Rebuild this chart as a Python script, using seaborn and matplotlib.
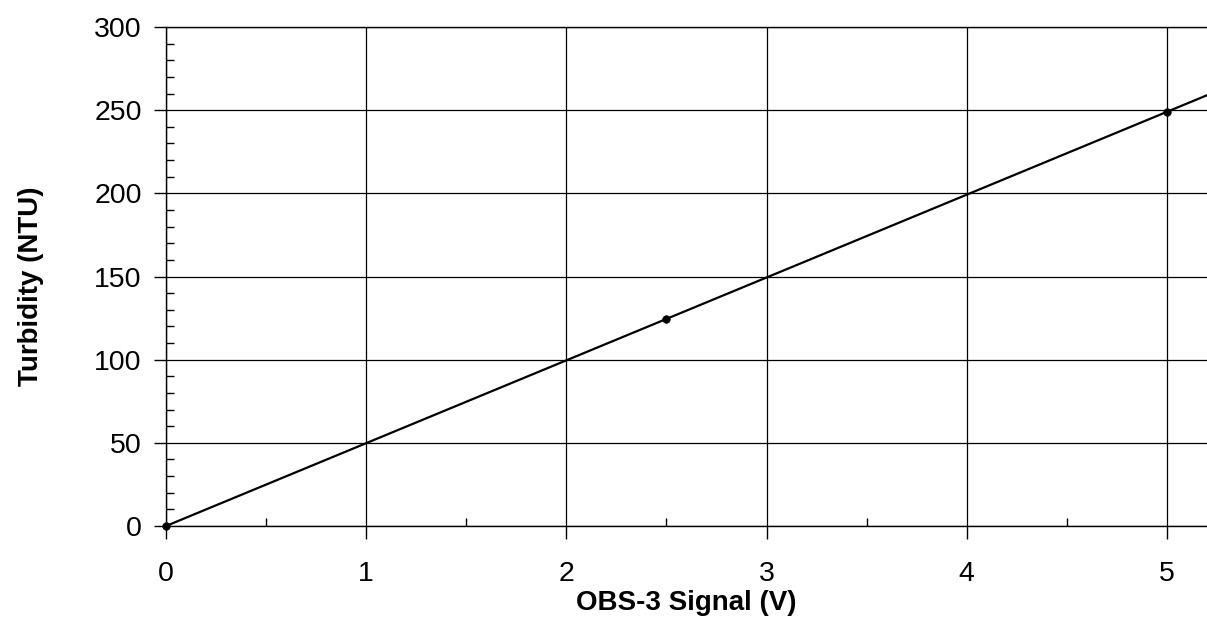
import numpy as np
import pandas as pd
import seaborn as sns
import matplotlib.pyplot as plt
from matplotlib.ticker import MultipleLocator

# calibration points
signal_v = [0.0, 2.5, 5.0]
turbidity_ntu = [0.0, 124.5, 249.0]

# calibration line as drawn (ends at the right edge)
fit_v = [0.0, 5.2]
fit_ntu = [0.0, 259.0]

x_ticks = [0, 1, 2, 3, 4, 5]
y_ticks = [0, 50, 100, 150, 200, 250, 300]

pts = pd.DataFrame({"signal": signal_v, "turbidity": turbidity_ntu})
fit = pd.DataFrame({"signal": fit_v, "turbidity": fit_ntu})

sns.set_theme(style="white")
plt.rcParams['font.family'] = ['Liberation Sans', 'DejaVu Sans']

fig = plt.figure(figsize=(12.07, 6.32), dpi=100)
ax = fig.add_axes([0.1375, 0.1677, 0.8625, 0.7895])

sns.lineplot(data=fit, x="signal", y="turbidity", color="black", lw=1.6, ax=ax)
sns.scatterplot(data=pts, x="signal", y="turbidity", color="black", s=30,
                edgecolor="black", zorder=5, clip_on=False, ax=ax)

ax.set_xlim(0, 5.2)
ax.set_ylim(0, 300)
ax.set_xticks(x_ticks)
ax.set_yticks(y_ticks)
ax.xaxis.set_minor_locator(MultipleLocator(0.5))
ax.yaxis.set_minor_locator(MultipleLocator(10))

ax.grid(True, which="major", color="black", lw=0.9)
ax.set_axisbelow(True)
for side in ["left", "bottom", "top"]:
    ax.spines[side].set_color("black")
    ax.spines[side].set_linewidth(1.0)
ax.spines["right"].set_visible(False)

ax.tick_params(axis="both", which="both", bottom=True, left=True, top=False, right=False)
ax.tick_params(axis="both", which="major", direction="out", length=9,
               width=1, color="black", labelsize=20.5, labelcolor="black")
ax.tick_params(axis="x", which="major", pad=16)
ax.tick_params(axis="y", which="major", pad=8.5)
ax.tick_params(axis="both", which="minor", direction="in", length=6,
               width=1, color="black")

ax.set_xlabel("OBS-3 Signal (V)", fontsize=20, fontweight="bold", color="black")
ax.set_ylabel("Turbidity (NTU)", fontsize=20, fontweight="bold", color="black")
ax.xaxis.set_label_coords(0.5, -0.128)
ax.yaxis.set_label_coords(-0.117, 0.48)

fig.savefig("out.png", dpi=100)
